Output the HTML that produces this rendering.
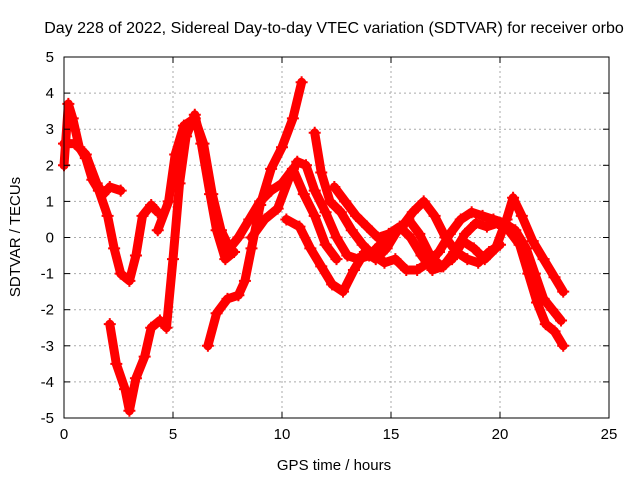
<!DOCTYPE html>
<html><head><meta charset="utf-8"><style>
body{margin:0;background:#fff}
svg text{font-family:"Liberation Sans",sans-serif;font-size:15px;fill:#000}
</style></head><body>
<svg id="c" width="640" height="480" xmlns="http://www.w3.org/2000/svg">
<text x="334" y="33" text-anchor="middle" style="font-size:16px">Day 228 of 2022, Sidereal Day-to-day VTEC variation (SDTVAR) for receiver orbo</text>
<text x="334" y="470" text-anchor="middle">GPS time / hours</text>
<text transform="translate(20,237) rotate(-90)" text-anchor="middle">SDTVAR / TECUs</text>
<g id="grid"></g><g id="marks"></g><g id="axes"></g>
</svg>
<script>
const xTicks=[0,5,10,15,20,25];
const yTicks=[-5,-4,-3,-2,-1,0,1,2,3,4,5];
const track1T=[0,0.2,0.4,0.7,1,1.3,1.6,2,2.3,2.6,3,3.3,3.6,4,4.3];
const track1V=[2.0,3.7,3.3,2.5,2.2,1.6,1.3,0.6,-0.3,-1.0,-1.2,-0.5,0.6,0.9,0.7];
const track2T=[2.1,2.4,2.8,3.0,3.3,3.7,4.0,4.4,4.7,5.0,5.3,5.6,6.0,6.3,6.7,7.0,7.4,7.8];
const track2V=[-2.4,-3.5,-4.2,-4.8,-3.9,-3.3,-2.5,-2.3,-2.5,-0.6,1.5,2.8,3.4,2.6,1.2,0.2,-0.6,-0.4];
const track3T=[0,0.5,1,1.5,1.8,2.1,2.6];
const track3V=[2.6,2.6,2.3,1.5,1.2,1.4,1.3];
const track4T=[6.6,7.0,7.5,8.0,8.3,8.6,9.0,9.5,10.0,10.5,10.9];
const track4V=[-3.0,-2.1,-1.7,-1.6,-1.2,-0.3,0.9,1.9,2.5,3.3,4.3];
const track5T=[4.3,4.8,5.1,5.5,6.0,6.4,6.8,7.2,7.6,8.0,8.5,9.0,9.5,10.0,10.5,11.0,11.5,12.0,12.5];
const track5V=[0.2,1.0,2.3,3.1,3.3,2.6,1.2,0.2,-0.3,0.0,0.5,1.0,1.3,1.5,1.9,1.2,0.6,-0.2,-0.6];
const track6T=[8.6,9.2,9.8,10.3,10.7,11.1,11.5,12.0,12.5,13.0,13.5,14.0,14.5,15.0,15.5,16.0,16.5,17.0,17.5,18.0,18.5,19.0,19.5,20.0];
const track6V=[0.0,0.5,0.8,1.6,2.1,2.0,1.3,0.7,0.0,-0.5,-0.6,-0.5,-0.2,0.0,0.3,0.7,1.0,0.6,0.0,-0.4,-0.6,-0.7,-0.4,-0.2];
const track7T=[11.5,11.8,12.2,12.7,13.2,13.7,14.2,14.7,15.2,15.7,16.2,16.7,17.2,17.7,18.2,18.7,19.2,19.7,20.2,20.7,21.2,21.6,22.0,22.4,22.8];
const track7V=[2.9,1.8,1.0,0.7,0.2,-0.2,-0.5,-0.7,-0.6,-0.9,-0.9,-0.7,-0.4,0.1,0.5,0.7,0.6,0.5,0.4,0.2,-0.3,-1.0,-1.7,-2.0,-2.3];
const track8T=[12.4,12.9,13.4,13.9,14.4,14.9,15.4,15.9,16.4,16.9,17.4,17.9,18.4,18.9,19.4,19.9,20.4,20.9,21.3,21.7,22.1,22.5,22.9];
const track8V=[1.4,1.0,0.6,0.3,0.0,0.1,0.3,0.0,-0.5,-0.9,-0.8,-0.4,0.1,0.4,0.3,0.4,0.2,-0.2,-1.0,-1.8,-2.4,-2.6,-3.0];
const track9T=[10.2,10.8,11.3,11.8,12.3,12.8,13.3,13.8,14.3,14.8,15.3,15.8,16.3,16.8,17.3,17.8,18.3,18.8,19.3,19.8,20.3,20.6,21.0,21.5,22.0,22.5,22.9];
const track9V=[0.5,0.3,-0.3,-0.8,-1.3,-1.5,-0.9,-0.4,-0.6,-0.3,0.2,0.5,0.1,-0.5,-0.8,-0.6,-0.1,-0.3,-0.6,-0.3,0.5,1.1,0.6,-0.1,-0.6,-1.1,-1.5];
const tracks=[[track1T,track1V],[track2T,track2V],[track3T,track3V],[track4T,track4V],[track5T,track5V],[track6T,track6V],[track7T,track7V],[track8T,track8V],[track9T,track9V]];
const X0=64,X1=609,Y0=418,Y1=57;
const sx=t=>X0+(t-0)/25*(X1-X0);
const sy=v=>Y0-(v+5)/10*(Y0-Y1);
const NS="http://www.w3.org/2000/svg";
function mk(tag,attrs,parent){const e=document.createElementNS(NS,tag);for(const k in attrs)e.setAttribute(k,attrs[k]);parent.appendChild(e);return e;}
const grid=document.getElementById('grid'),axes=document.getElementById('axes'),marks=document.getElementById('marks');
xTicks.forEach(t=>{
 if(t>0&&t<25){const g=mk('line',{x1:sx(t),x2:sx(t),y1:Y0,y2:Y1,stroke:'#aaa','stroke-dasharray':'2,3'},grid);
 
 }
 mk('line',{x1:sx(t),x2:sx(t),y1:Y0,y2:Y0-6,stroke:'#000'},axes);
 mk('line',{x1:sx(t),x2:sx(t),y1:Y1,y2:Y1+6,stroke:'#000'},axes);
 const l=mk('text',{x:sx(t),y:Y0+21,'text-anchor':'middle'},axes);l.textContent=t;
 
 
});
yTicks.forEach(v=>{
 if(v>-5&&v<5){const g=mk('line',{x1:X0,x2:X1,y1:sy(v),y2:sy(v),stroke:'#aaa','stroke-dasharray':'2,3'},grid);
 
 }
 mk('line',{x1:X0,x2:X0+6,y1:sy(v),y2:sy(v),stroke:'#000'},axes);
 mk('line',{x1:X1,x2:X1-6,y1:sy(v),y2:sy(v),stroke:'#000'},axes);
 const l=mk('text',{x:X0-10,y:sy(v)+5,'text-anchor':'end'},axes);l.textContent=v;
 
 
});
const fr=mk('rect',{x:X0,y:Y1,width:X1-X0,height:Y0-Y1,fill:'none',stroke:'#000'},axes);


tracks.forEach(([T,V])=>{
 const pts=T.map((t,i)=>sx(t)+','+sy(V[i])).join(' ');
 const p=mk('polyline',{points:pts,fill:'none',stroke:'#f00','stroke-width':9,'stroke-linejoin':'round','stroke-linecap':'round'},marks);
 
 
 T.forEach((t,i)=>{const x=sx(t),y=sy(V[i]);
  const m=mk('path',{d:`M${x-6},${y}h12M${x},${y-6}v12`,stroke:'#f00','stroke-width':2},marks);
  
  
 });
});
</script>
</body></html>
